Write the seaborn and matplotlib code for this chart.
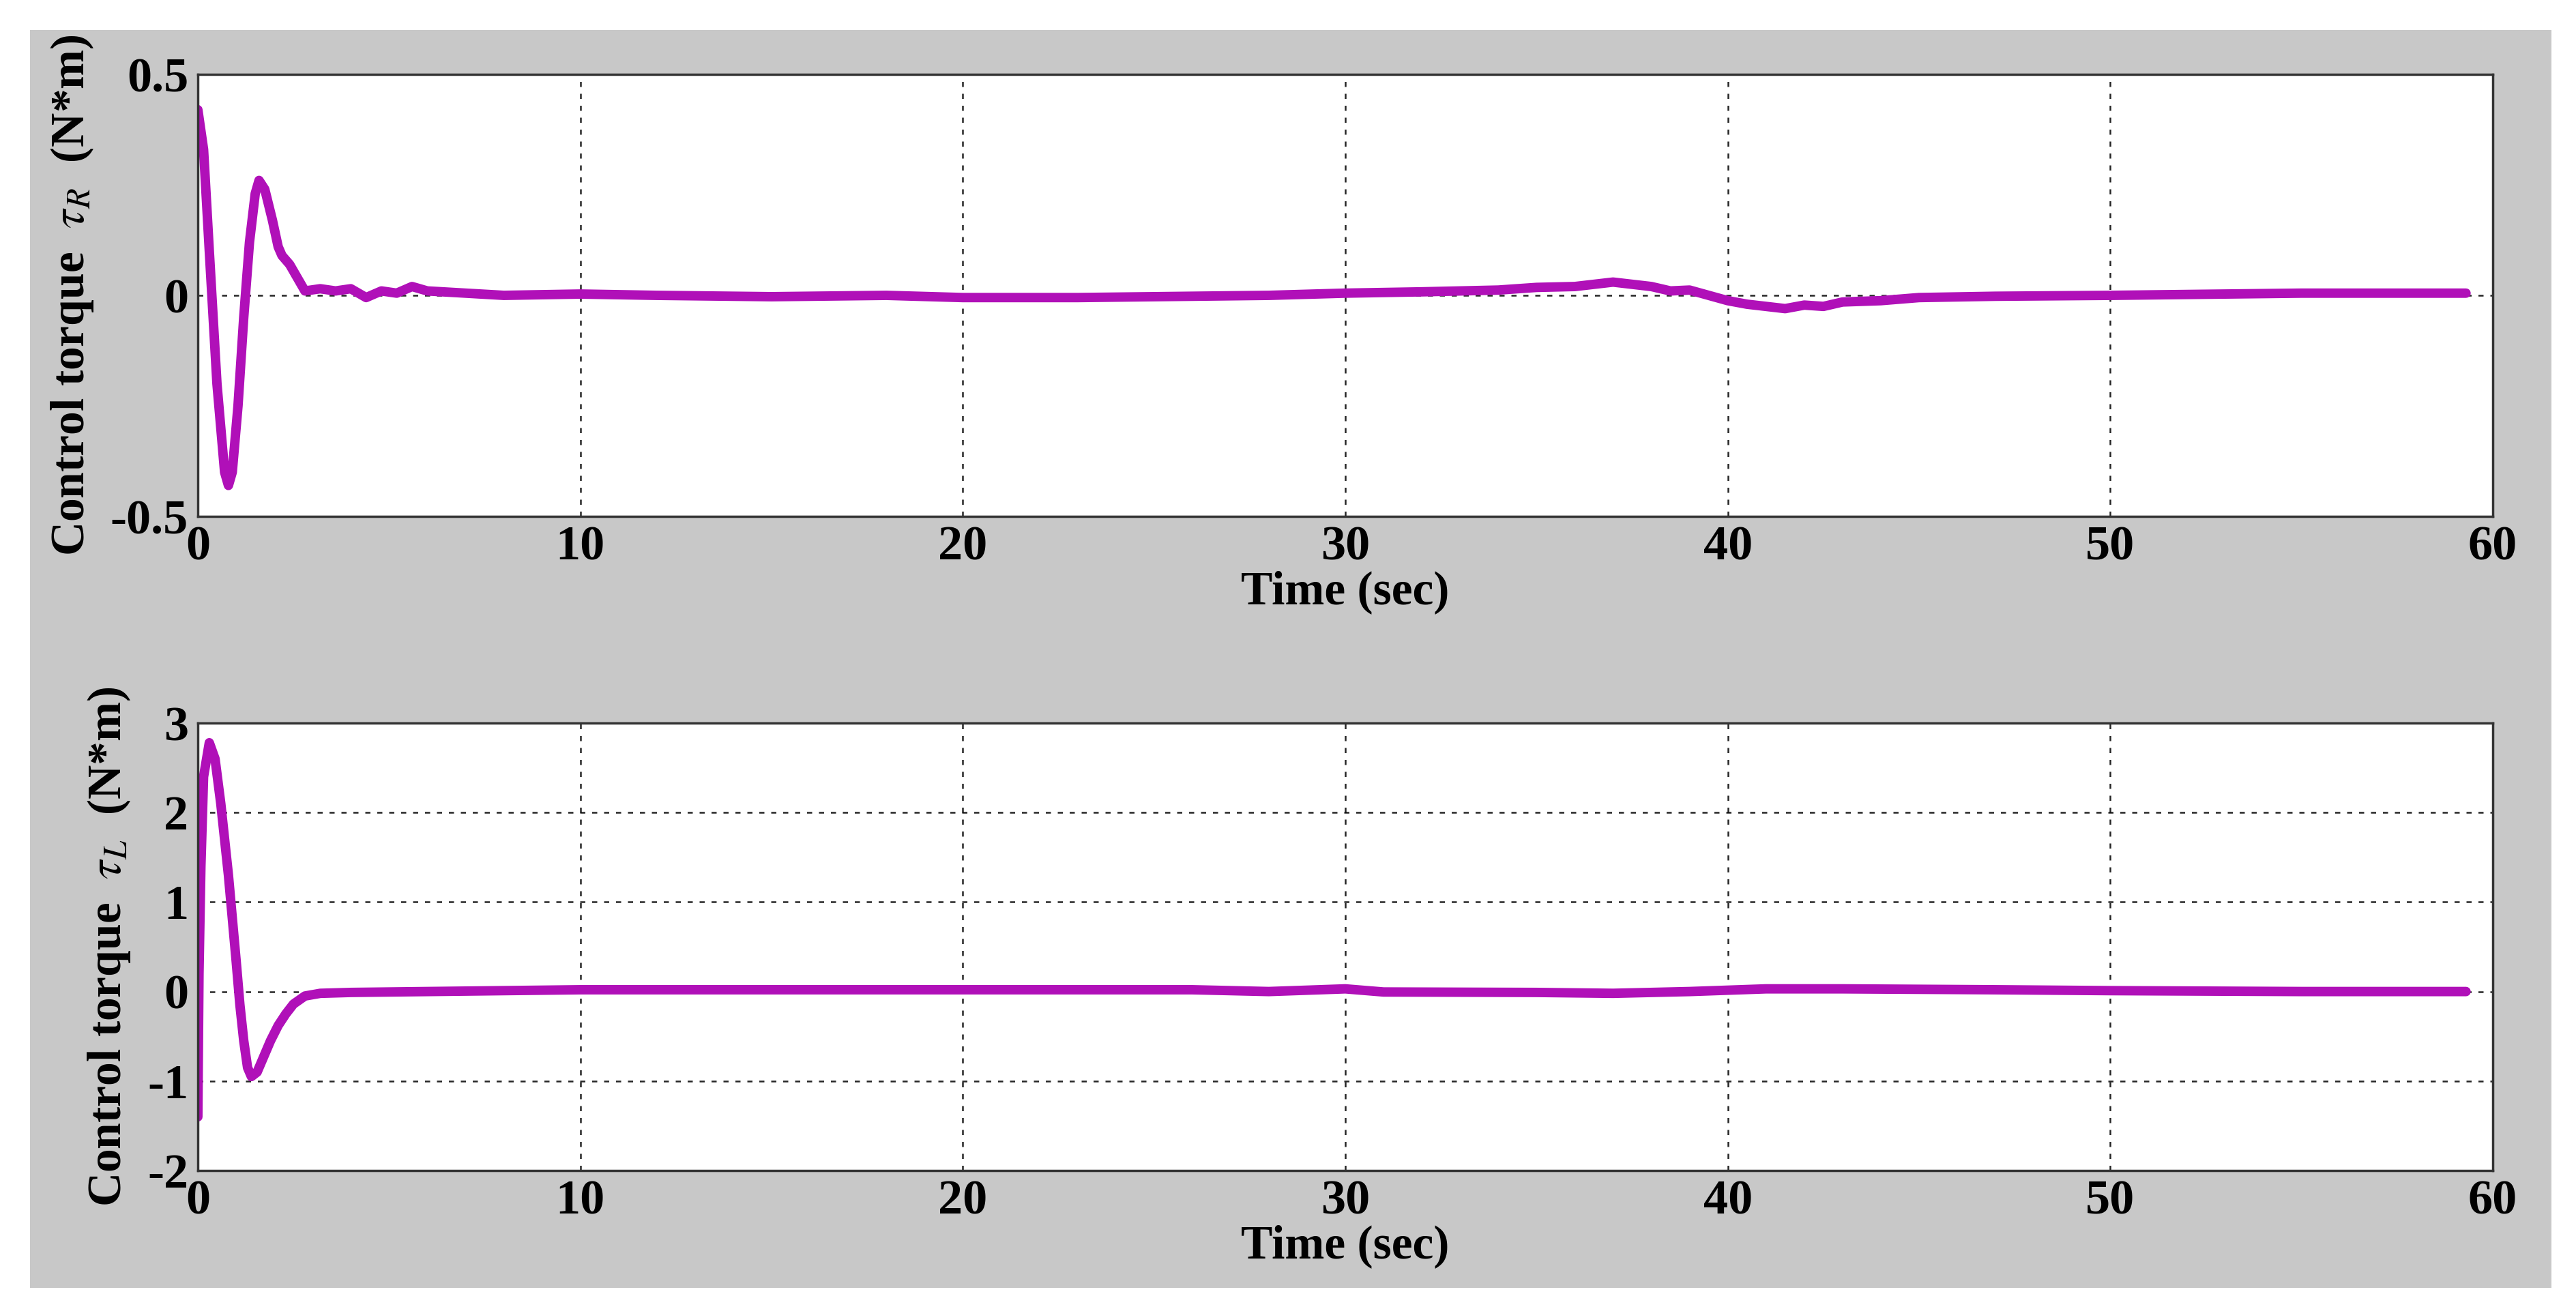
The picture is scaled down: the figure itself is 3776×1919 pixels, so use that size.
import numpy as np
import matplotlib
matplotlib.use("Agg")
import matplotlib.pyplot as plt
import seaborn as sns
from matplotlib.patches import Rectangle

# tau_R trace
t_r = [0, 0.15, 0.3, 0.5, 0.7, 0.8, 0.9, 1.05, 1.2, 1.35, 1.5, 1.6, 1.75, 1.95, 2.1, 2.2, 2.4, 2.6, 2.8,
       3.2, 3.6, 4.0, 4.4, 4.8, 5.2, 5.6, 6.0, 7, 8, 10, 12, 15, 18, 20, 23, 26, 28, 30, 32, 34, 35,
       36, 37, 38, 38.5, 39, 39.5, 40, 40.5, 41, 41.5, 42, 42.5, 43, 44, 45, 47, 50, 53, 55, 57, 59.3]
tau_r = [0.42, 0.33, 0.1, -0.2, -0.4, -0.43, -0.4, -0.25, -0.05, 0.12, 0.23, 0.26, 0.24, 0.17, 0.11, 0.09, 0.07, 0.04, 0.01,
         0.015, 0.01, 0.015, -0.005, 0.01, 0.005, 0.02, 0.01, 0.005, 0.0, 0.003, 0.0, -0.003, 0.0, -0.005, -0.005, -0.002,
         0.0, 0.005, 0.008, 0.012, 0.018, 0.02, 0.03, 0.02, 0.01, 0.012, 0.0, -0.012, -0.02, -0.025, -0.03, -0.022,
         -0.025, -0.015, -0.012, -0.005, -0.002, 0.0, 0.003, 0.005, 0.005, 0.005]

# tau_L trace
t_l = [0, 0.03, 0.08, 0.15, 0.3, 0.45, 0.6, 0.8, 1.0, 1.1, 1.2, 1.3, 1.4, 1.55, 1.7, 1.9, 2.1, 2.3, 2.5, 2.8,
       3.2, 4, 6, 10, 15, 20, 26, 28, 30, 31, 35, 37, 39, 41, 43, 47, 50, 55, 59.3]
tau_l = [-1.4, 0.2, 1.4, 2.4, 2.78, 2.6, 2.1, 1.3, 0.35, -0.15, -0.55, -0.85, -0.95, -0.9, -0.75, -0.55, -0.38, -0.25,
         -0.14, -0.05, -0.02, -0.01, 0.0, 0.02, 0.02, 0.02, 0.02, 0.0, 0.03, -0.005, -0.01, -0.02, 0.0, 0.03, 0.03, 0.02,
         0.01, 0.0, 0.0]

xticks = [0, 10, 20, 30, 40, 50, 60]

sns.set_theme(style="white")
plt.rcParams["font.family"] = ["Liberation Serif", "DejaVu Serif"]
plt.rcParams["mathtext.fontset"] = "stix"

W, H = 3776, 1919
fig = plt.figure(figsize=(W / 100, H / 100), dpi=100)
fig.patch.set_facecolor("white")
fig.patches.append(Rectangle((44 / W, 1 - 1888 / H), (3740 - 44) / W, (1888 - 44) / H,
                             transform=fig.transFigure, facecolor="#c8c8c8", edgecolor="none", zorder=-1))

ax1 = fig.add_axes([290 / W, 1 - 757 / H, (3654 - 290) / W, (757 - 109) / H])
ax2 = fig.add_axes([290 / W, 1 - 1716 / H, (3654 - 290) / W, (1716 - 1060) / H])

lw = 10
col = "#b010b8"
sns.lineplot(x=t_r, y=tau_r, ax=ax1, color=col, linewidth=lw, sort=False)
sns.lineplot(x=t_l, y=tau_l, ax=ax2, color=col, linewidth=lw, sort=False)

for ax, ylim, yticks, ylab in [
    (ax1, (-0.5, 0.5), [-0.5, 0, 0.5], r"Control torque  $\tau_R$  (N*m)"),
    (ax2, (-2, 3), [-2, -1, 0, 1, 2, 3], r"Control torque  $\tau_L$  (N*m)"),
]:
    ax.set_facecolor("white")
    ax.set_xlim(0, 60)
    ax.set_ylim(*ylim)
    ax.set_xticks(xticks)
    ax.set_yticks(yticks)
    ax.set_yticklabels([f"{v:g}" for v in yticks])
    ax.grid(True, color="black", linestyle=(0, (3, 4)), linewidth=1.8, alpha=0.85)
    for s in ax.spines.values():
        s.set_color("#333333")
        s.set_linewidth(2.5)
    ax.tick_params(labelsize=52, pad=4, colors="black")
    for lbl in ax.get_xticklabels() + ax.get_yticklabels():
        lbl.set_fontweight("bold")
    ax.set_xlabel("Time (sec)", fontsize=50, fontweight="bold", labelpad=0, color="black")
    ax.set_ylabel(ylab, fontsize=50, fontweight="bold", labelpad=16, color="black")

fig.savefig("out.png", dpi=100, facecolor=fig.get_facecolor())
